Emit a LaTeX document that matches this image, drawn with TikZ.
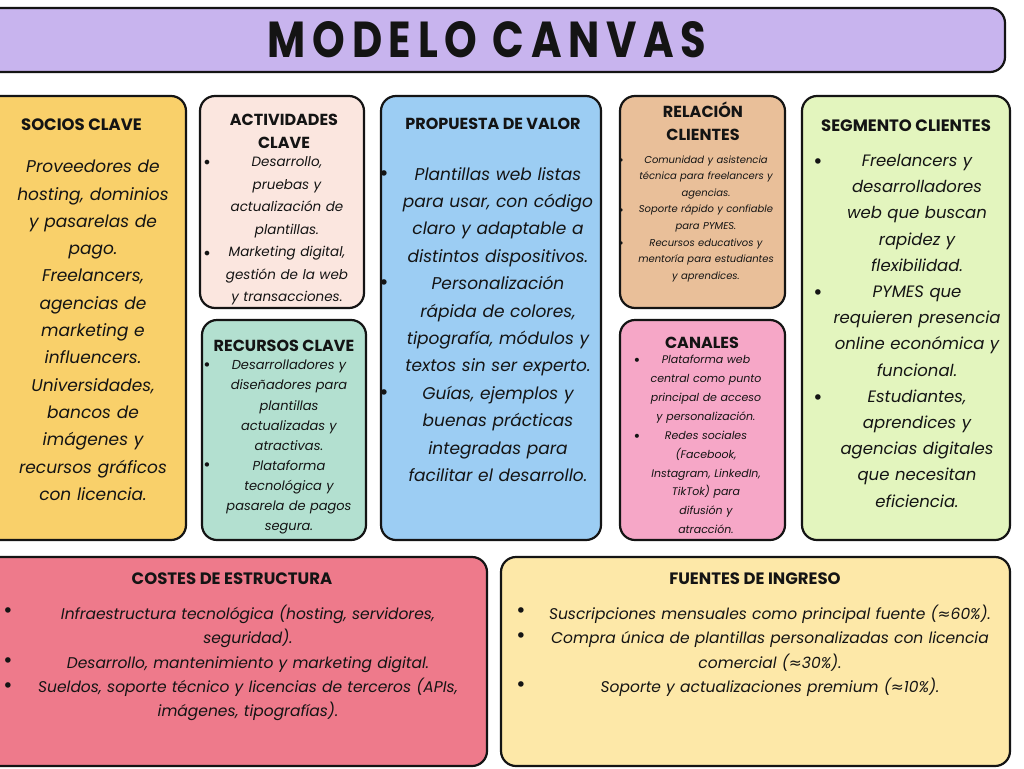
\documentclass[tikz,border=0pt]{standalone}
\usepackage{fontspec}
\usepackage{graphicx}
\setmainfont{Poppins}
\newfontfamily\titlefont{Poppins}[LetterSpace=16]
\newfontfamily\symfont{DejaVu Sans}
\newcommand\apx{{\symfont\itshape ≈}}
\definecolor{cTitle}{RGB}{200,180,238}
\definecolor{cSocios}{RGB}{249,208,106}
\definecolor{cAct}{RGB}{251,230,223}
\definecolor{cRec}{RGB}{179,224,208}
\definecolor{cProp}{RGB}{156,205,243}
\definecolor{cRel}{RGB}{233,191,153}
\definecolor{cCan}{RGB}{246,167,199}
\definecolor{cSeg}{RGB}{227,245,190}
\definecolor{cCos}{RGB}{238,122,139}
\definecolor{cFue}{RGB}{253,232,168}
\definecolor{ink}{RGB}{20,20,20}
\tikzset{
  card/.style={draw=ink, line width=2.2pt, rounded corners=15pt, inner sep=0pt, outer sep=0pt, anchor=north west},
  head/.style={font=\bfseries\fontsize{#1}{#1}\selectfont, inner sep=0pt, anchor=base, text=ink},
  head/.default=16.5,
  bodyt/.style n args={2}{font=\itshape\fontsize{#1}{#2}\selectfont, align=center, inner sep=0pt, anchor=north, text=ink},
  bul/.style={font=\symfont\fontsize{#1}{#1}\selectfont, inner sep=0pt, anchor=center, text=ink, yshift=-3pt},
  bul/.default=19,
}
\begin{document}
\begin{tikzpicture}[x=1pt,y=-1pt]
\useasboundingbox (0,0) rectangle (1024,768);
\clip (0,0) rectangle (1024,768);
\fill[white] (0,0) rectangle (1024,768);

% boxes
\node[card, fill=cTitle, minimum width=1035pt, minimum height=64pt] (titlebox) at (-30,8) {};
\node[card, fill=cSocios, minimum width=216pt, minimum height=444pt] (socios) at (-30,96) {};
\node[card, fill=cAct, minimum width=164pt, minimum height=212pt] (activ) at (200,96) {};
\node[card, fill=cRec, minimum width=164pt, minimum height=220pt] (recur) at (202,320) {};
\node[card, fill=cProp, minimum width=220pt, minimum height=444pt] (prop) at (381,96) {};
\node[card, fill=cRel, minimum width=165pt, minimum height=212pt] (relac) at (620,96) {};
\node[card, fill=cCan, minimum width=165pt, minimum height=220pt] (canal) at (620,320) {};
\node[card, fill=cSeg, minimum width=208pt, minimum height=444pt] (segm) at (802,96) {};
\node[card, fill=cCos, minimum width=517pt, minimum height=209pt] (costes) at (-30,557) {};
\node[card, fill=cFue, minimum width=509pt, minimum height=209pt] (fuentes) at (501,557) {};

% title
\node[inner sep=0pt, anchor=center, text=ink] (ttl) at (487,40) {\resizebox{438pt}{36pt}{\titlefont\bfseries MODELO CANVAS}};

% socios clave
\node[head] (sociosh) at (81.5,130.8) {SOCIOS CLAVE};
\node[bodyt={17}{27.3}, text width=190pt] (sociosb) at (93,160) {Proveedores de\\hosting, dominios\\y pasarelas de\\pago.\\Freelancers,\\agencias de\\marketing e\\influencers.\\Universidades,\\bancos de\\imágenes y\\recursos gráficos\\con licencia.};

% actividades clave
\node[head=16] (acth1) at (284,125.6) {ACTIVIDADES};
\node[head=16] (acth2) at (284,148.6) {CLAVE};
\node[bodyt={13.5}{22.5}, text width=155pt] (actb) at (287,156.8) {Desarrollo,\\pruebas y\\actualización de\\plantillas.\\Marketing digital,\\gestión de la web\\y transacciones.};
\node[bul=16] (actb1) at (207,161) {•};
\node[bul=16] (actb2) at (207,252) {•};

% recursos clave
\node[head=16] (rech) at (284,351.6) {RECURSOS CLAVE};
\node[bodyt={13}{20.1}, text width=155pt] (recb) at (289,360) {Desarrolladores y\\diseñadores para\\plantillas\\actualizadas y\\atractivas.\\Plataforma\\tecnológica y\\pasarela de pagos\\segura.};
\node[bul=15] (recb1) at (207,364) {•};
\node[bul=15] (recb2) at (207,464) {•};

% propuesta de valor
\node[head=16] (proph) at (493,129.6) {PROPUESTA DE VALOR};
\node[bodyt={17}{27.4}, text width=215pt] (propb) at (498,167) {Plantillas web listas\\para usar, con código\\claro y adaptable a\\distintos dispositivos.\\Personalización\\rápida de colores,\\tipografía, módulos y\\textos sin ser experto.\\Guías, ejemplos y\\buenas prácticas\\integradas para\\facilitar el desarrollo.};
\node[bul] (propb1) at (384,173) {•};
\node[bul] (propb2) at (384,282) {•};
\node[bul] (propb3) at (384,392) {•};

% relacion clientes
\node[head=16] (relh1) at (703,117.6) {RELACIÓN};
\node[head=16] (relh2) at (703,140.6) {CLIENTES};
\node[bodyt={10}{16.6}, text width=160pt] (relb) at (706,155.3) {Comunidad y asistencia\\técnica para freelancers y\\agencias.\\Soporte rápido y confiable\\para PYMES.\\Recursos educativos y\\mentoría para estudiantes\\y aprendices.};
\node[bul=11] (relb1) at (621,159) {•};
\node[bul=11] (relb2) at (621,209) {•};
\node[bul=11] (relb3) at (621,242) {•};

% canales
\node[head=16] (canh) at (702,348.6) {CANALES};
\node[bodyt={11}{18.9}, text width=160pt] (canb) at (706,355) {Plataforma web\\central como punto\\principal de acceso\\y personalización.\\Redes sociales\\(Facebook,\\Instagram, LinkedIn,\\TikTok) para\\difusión y\\atracción.};
\node[bul=14] (canb1) at (637,359) {•};
\node[bul=14] (canb2) at (637,435) {•};

% segmento clientes
\node[head] (segh) at (906,131.8) {SEGMENTO CLIENTES};
\node[bodyt={16.5}{26.2}, text width=195pt] (segb) at (917,154) {Freelancers y\\desarrolladores\\web que buscan\\rapidez y\\flexibilidad.\\PYMES que\\requieren presencia\\online económica y\\funcional.\\Estudiantes,\\aprendices y\\agencias digitales\\que necesitan\\eficiencia.};
\node[bul] (segb1) at (818,161) {•};
\node[bul] (segb2) at (818,292) {•};
\node[bul] (segb3) at (818,397) {•};

% costes de estructura
\node[head] (cosh) at (232,584.8) {COSTES DE ESTRUCTURA};
\node[bodyt={15.5}{24.3}, text width=490pt] (cosb) at (248,605) {Infraestructura tecnológica (hosting, servidores,\\seguridad).\\Desarrollo, mantenimiento y marketing digital.\\Sueldos, soporte técnico y licencias de terceros (APIs,\\imágenes, tipografías).};
\node[bul] (cosb1) at (8,610) {•};
\node[bul] (cosb2) at (8,660) {•};
\node[bul] (cosb3) at (8,685) {•};

% fuentes de ingreso
\node[head] (fueh) at (755,584.8) {FUENTES DE INGRESO};
\node[bodyt={15.5}{24.3}, text width=490pt] (fueb) at (770,605) {Suscripciones mensuales como principal fuente (\apx60\%).\\Compra única de plantillas personalizadas con licencia\\comercial (\apx30\%).\\Soporte y actualizaciones premium (\apx10\%).};
\node[bul] (fueb1) at (521,610) {•};
\node[bul] (fueb2) at (521,635) {•};
\node[bul] (fueb3) at (521,684) {•};
\end{tikzpicture}
\end{document}
